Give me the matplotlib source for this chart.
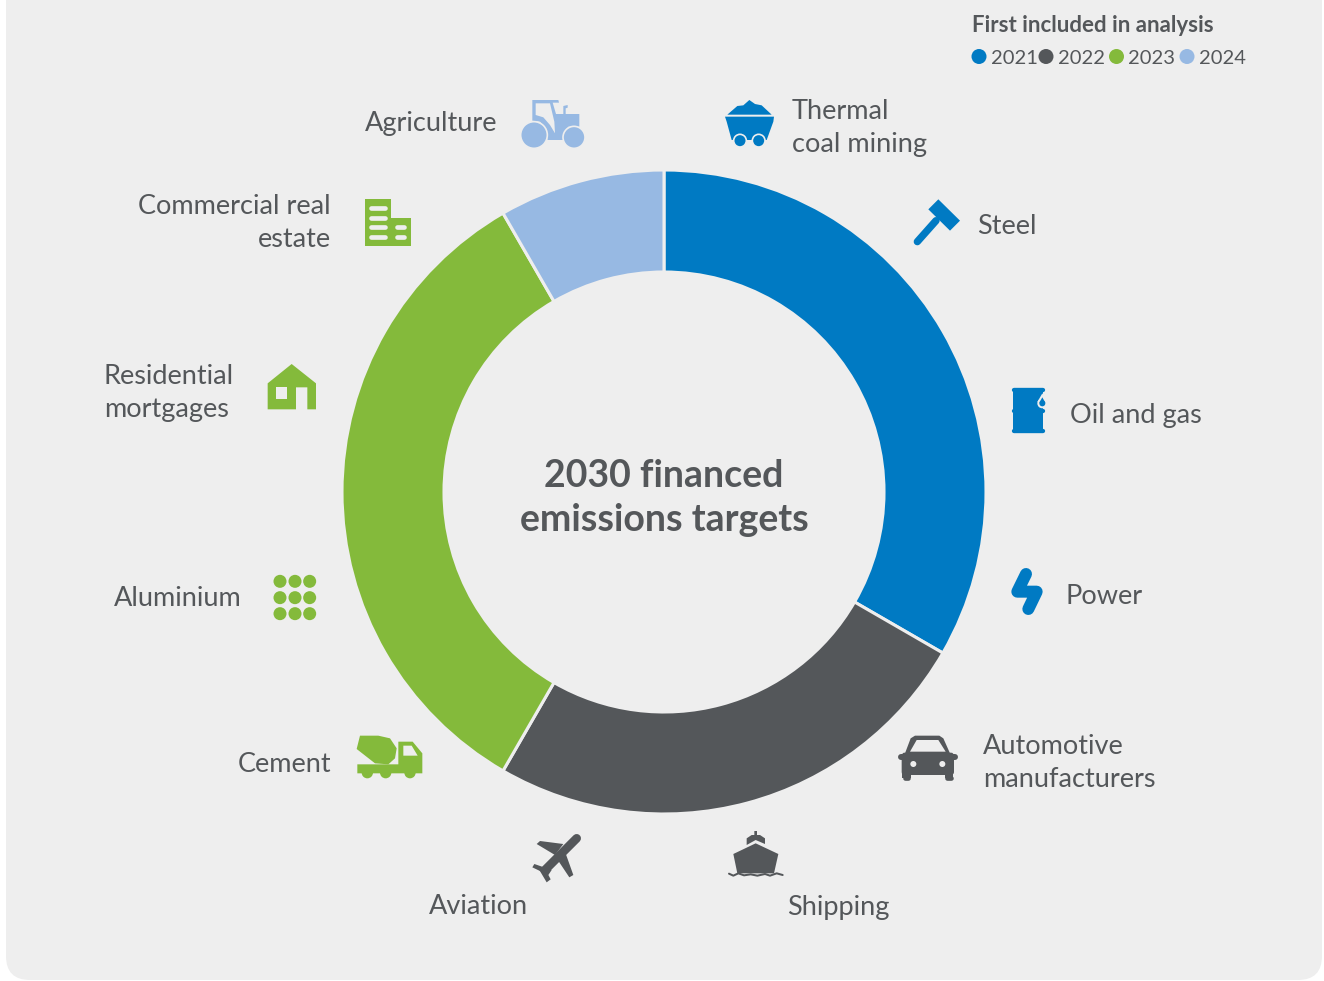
import matplotlib
matplotlib.use("Agg")
import matplotlib.pyplot as plt
from matplotlib.patches import Polygon, Circle, Rectangle, FancyBboxPatch

plt.rcParams['font.family'] = ['Lato', 'DejaVu Sans']

years = ["2021", "2022", "2023", "2024"]
targets_per_year = [4, 3, 4, 1]
colors = ["#007AC3", "#54575A", "#84BA3B", "#97B9E3"]
sectors = ["Thermal\ncoal mining", "Steel", "Oil and gas", "Power",
           "Automotive\nmanufacturers", "Shipping", "Aviation",
           "Cement", "Aluminium", "Residential\nmortgages", "Commercial real\nestate",
           "Agriculture"]
label_x = [792, 977, 1070, 1066, 983, 787, 528, 331, 242, 104, 331, 497]
label_y = [128, 226, 415, 596, 763, 907, 906, 764, 598, 393, 223, 124]
label_ha = ["left", "left", "left", "left", "left", "left", "right", "right", "right", "left", "right", "right"]
legend_dot_x = [979, 1046, 1116.5, 1187]
legend_text_x = [991, 1058, 1128, 1199]

bg = "#EEEEEE"
text_col = "#54575A"
blue, grey, green, light = colors

fig = plt.figure(figsize=(13.24, 9.81), dpi=100)
ax = fig.add_axes([0, 0, 1, 1])
ax.set_xlim(0, 1324)
ax.set_ylim(981, 0)
ax.axis("off")

# panel with rounded bottom corners
ax.add_patch(FancyBboxPatch((6, -60), 1316, 1040, boxstyle="round,pad=0,rounding_size=24",
                            fc=bg, ec="none"))

# donut
cx, cy, r = 664, 492, 322
ax2 = fig.add_axes([(cx - r) / 1324, 1 - (cy + r) / 981, 2 * r / 1324, 2 * r / 981])
ax2.pie(targets_per_year, colors=colors, startangle=90, counterclock=False, radius=1,
        wedgeprops=dict(width=102 / r, edgecolor=bg, linewidth=2.2))
ax2.set_xlim(-1, 1)
ax2.set_ylim(-1, 1)
ax2.axis("off")
for w in ax2.patches:
    w.set_clip_on(False)

# text
for name, x, y, ha in zip(sectors, label_x, label_y, label_ha):
    ax.text(x, y, name, ha=ha, va="center", fontsize=19.5, color=text_col, linespacing=1.38)

ax.text(664, 476, "2030 financed", ha="center", va="center", fontsize=27, fontweight="bold", color=text_col)
ax.text(664, 520, "emissions targets", ha="center", va="center", fontsize=27, fontweight="bold", color=text_col)

ax.text(972, 26, "First included in analysis", ha="left", va="center", fontsize=16, fontweight="bold", color=text_col)
for yr, col, dx, tx in zip(years, colors, legend_dot_x, legend_text_x):
    ax.add_patch(Circle((dx, 56.5), 7.5, fc=col, ec="none"))
    ax.text(tx, 58, yr, ha="left", va="center", fontsize=14.5, color=text_col)


# icon helpers, coordinates are from 3x crops of the picture
def z(pts, ox, oy):
    return [(ox + p[0] / 3, oy + p[1] / 3) for p in pts]


def poly(pts, ox, oy, col):
    ax.add_patch(Polygon(z(pts, ox, oy), closed=True, fc=col, ec="none"))


def circ(x, y, rad, ox, oy, col, edge="none", lw=0):
    ax.add_patch(Circle((ox + x / 3, oy + y / 3), rad / 3, fc=col, ec=edge, lw=lw))


def thick(pts, w, ox, oy, col):
    xy = z(pts, ox, oy)
    ax.plot([p[0] for p in xy], [p[1] for p in xy], color=col, lw=w / 3 * 0.72,
            solid_capstyle="round", solid_joinstyle="round")


def box(x0, y0, x1, y1, ox, oy, col):
    ax.add_patch(Rectangle((ox + x0 / 3, oy + y0 / 3), (x1 - x0) / 3, (y1 - y0) / 3, fc=col, ec="none"))


# tractor
ox, oy = 500, 80
poly([(97, 60), (175, 60), (177, 68), (158, 68), (168, 102), (190, 102), (190, 78), (203, 75), (203, 83),
      (197, 85), (197, 102), (238, 102), (238, 140), (205, 140), (190, 160), (190, 180), (143, 180),
      (143, 150), (120, 125), (97, 122)], ox, oy, light)
poly([(107, 70), (150, 70), (163, 125), (165, 160), (150, 135), (130, 112), (107, 105)], ox, oy, bg)
poly([(125, 122), (145, 135), (163, 160), (170, 160), (170, 180), (143, 180), (140, 150)], ox, oy, light)
circ(102, 165, 40, ox, oy, light, bg, 1.2)
circ(222, 172, 33, ox, oy, light, bg, 1.2)

# coal cart
poly([(682, 104), (712, 78), (730, 76), (748, 60), (765, 72), (785, 76), (815, 104)], ox, oy, blue)
poly([(675, 110), (822, 110), (820, 125), (800, 180), (695, 180), (680, 125)], ox, oy, blue)
circ(720, 182, 19, ox, oy, blue, bg, 1.2)
circ(776, 182, 19, ox, oy, blue, bg, 1.2)

# hammer and barrel
ox, oy = 900, 190
poly([(115, 28), (180, 92), (150, 122), (85, 58)], ox, oy, blue)
thick([(108, 92), (52, 155)], 22, ox, oy, blue)
box(340, 598, 430, 730, ox, oy, blue)
for ry in [600, 662, 724]:
    thick([(342, ry), (428, ry)], 13, ox, oy, blue)
poly([(427, 610), (442, 636), (412, 636)], ox, oy, bg)
circ(427, 640, 15, ox, oy, bg)
poly([(427, 622), (436, 638), (418, 638)], ox, oy, blue)
circ(427, 640, 9, ox, oy, blue)

# power and car
ox, oy = 890, 560
thick([(408, 42), (382, 95), (440, 95), (415, 147)], 36, ox, oy, blue)
poly([(62, 535), (75, 527), (148, 527), (160, 535), (180, 580), (45, 580)], ox, oy, grey)
poly([(60, 575), (80, 540), (145, 540), (167, 575)], ox, oy, bg)
ax.add_patch(FancyBboxPatch((ox + 35 / 3 + 2, oy + 578 / 3 + 2), 157 / 3 - 4, 67 / 3 - 4,
                            boxstyle="round,pad=2,rounding_size=3", fc=grey, ec="none"))
thick([(33, 590), (195, 590)], 18, ox, oy, grey)
box(37, 640, 62, 655, ox, oy, grey)
box(165, 640, 190, 655, ox, oy, grey)
thick([(44, 655), (55, 655)], 14, ox, oy, grey)
thick([(172, 655), (183, 655)], 14, ox, oy, grey)
circ(70, 612, 9, ox, oy, bg)
circ(157, 612, 9, ox, oy, bg)

# plane and ship
ox, oy = 520, 820
thick([(170, 55), (75, 150)], 26, ox, oy, grey)
poly([(130, 72), (60, 63), (50, 72), (105, 105)], ox, oy, grey)
poly([(135, 95), (160, 165), (148, 172), (110, 115)], ox, oy, grey)
poly([(43, 132), (95, 150), (85, 165), (37, 142)], ox, oy, grey)
poly([(72, 140), (92, 178), (80, 187), (58, 150)], ox, oy, grey)
poly([(640, 102), (707, 70), (775, 102), (762, 160), (652, 160)], ox, oy, grey)
poly([(680, 55), (695, 45), (703, 45), (703, 33), (711, 33), (711, 45), (720, 45), (735, 55), (735, 72),
      (707, 60), (680, 75)], ox, oy, grey)
thick([(627, 161), (640, 167), (655, 160), (672, 166), (692, 163), (712, 167), (735, 162), (750, 167),
       (770, 160), (788, 165)], 6, ox, oy, grey)

# building and house
ox, oy = 260, 190
poly([(315, 27), (393, 27), (393, 85), (453, 85), (453, 168), (315, 168)], ox, oy, green)
for sy in [55, 83, 112, 141]:
    thick([(332, sy), (376, sy)], 14, ox, oy, bg)
for sy in [112, 141]:
    thick([(410, sy), (433, sy)], 14, ox, oy, bg)
poly([(95, 522), (168, 580), (168, 658), (142, 658), (142, 592), (108, 592), (108, 658), (23, 658),
      (23, 580)], ox, oy, green)
box(47, 592, 82, 626, ox, oy, bg)

# aluminium and cement truck
ox, oy = 260, 565
for dot_y in [49, 98, 146]:
    for dot_x in [60, 105, 149]:
        circ(dot_x, dot_y, 19.5, ox, oy, green)
poly([(300, 512), (355, 512), (390, 520), (410, 550), (405, 580), (385, 598), (345, 595), (290, 552)], ox, oy, green)
poly([(292, 598), (415, 598), (415, 530), (458, 530), (487, 565), (487, 625), (292, 625)], ox, oy, green)
poly([(430, 542), (455, 542), (473, 572), (430, 572)], ox, oy, bg)
for wx in [322, 377, 450]:
    circ(wx, 623, 17, ox, oy, green)

fig.savefig("out.png", dpi=100, facecolor="white")
